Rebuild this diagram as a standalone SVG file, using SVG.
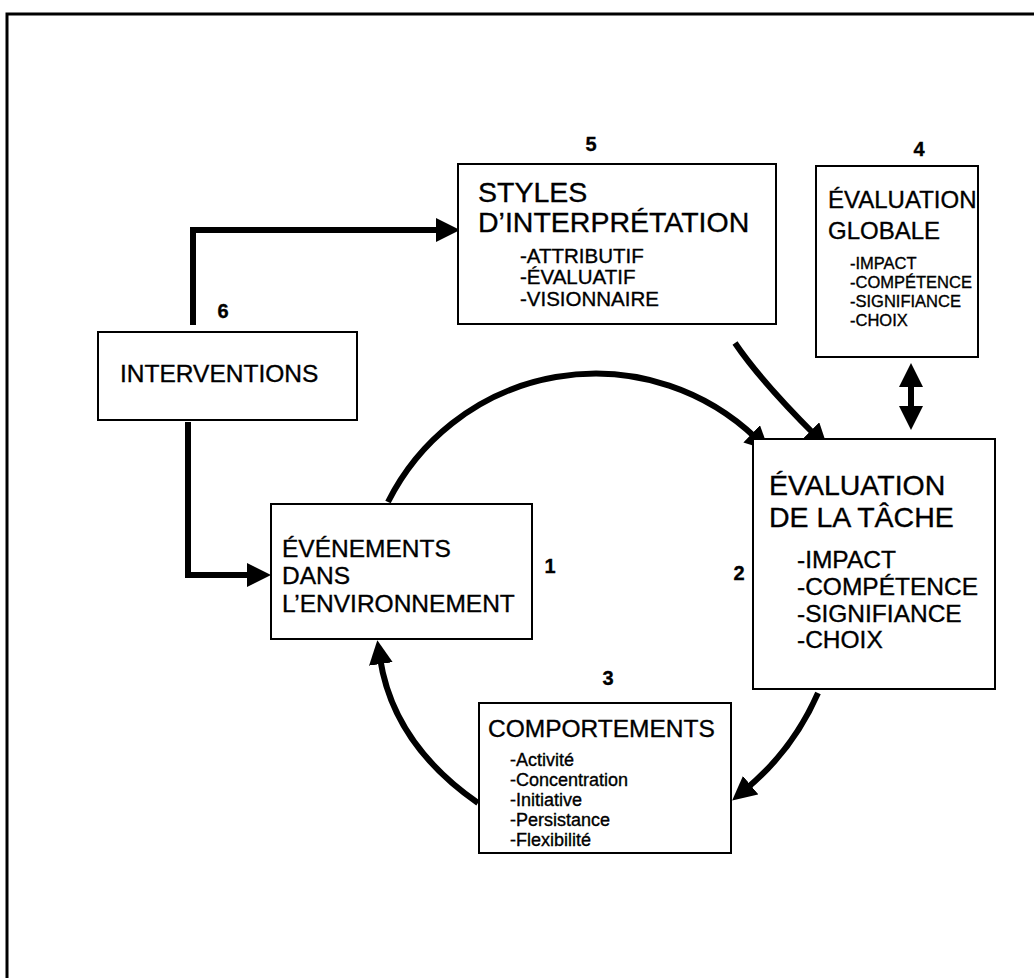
<svg xmlns="http://www.w3.org/2000/svg" width="1034" height="978" viewBox="0 0 1034 978">
<style>
text{font-family:"Liberation Sans",Arial,sans-serif;fill:#000;stroke:#000;stroke-width:0.35}
.box{fill:#fff;stroke:#000;stroke-width:2}
.t28{font-size:28.5px}
.t24{font-size:24.5px}
.t20{font-size:20.5px}
.t17{font-size:16.5px}
.t18{font-size:18px}
.num{font-size:20px;font-weight:bold;text-anchor:middle}
.con{fill:none;stroke:#000;stroke-width:6}
</style>
<defs>
<marker id="ah" markerUnits="userSpaceOnUse" viewBox="0 0 24 24" markerWidth="24" markerHeight="24" refX="6" refY="12" orient="auto-start-reverse">
<path d="M0,0 L24,12 L0,24 z" fill="#000"/>
</marker>
</defs>
<rect width="1034" height="978" fill="#fff"/>
<path d="M7,978 V14 H1034" fill="none" stroke="#000" stroke-width="3"/>

<g id="connectors">
<path class="con" d="M193,325 V230 H442" marker-end="url(#ah)"/>
<path class="con" d="M188,422 V575 H253" marker-end="url(#ah)"/>
<path class="con" d="M388,502 A232,232 0 0 1 756,438" marker-end="url(#ah)"/>
<path class="con" d="M735,343 Q760,380 815,435" stroke-width="5" marker-end="url(#ah)"/>
<path class="con" d="M911,381 V412" stroke-width="7" marker-start="url(#ah)" marker-end="url(#ah)"/>
<path class="con" d="M818,693 Q793,750 746,789" marker-end="url(#ah)"/>
<path class="con" d="M478,803 Q393,744 380,658" marker-end="url(#ah)"/>
</g>

<g id="n5">
<rect class="box" x="458" y="164" width="318" height="160"/>
<text class="num" x="591" y="151">5</text>
<text class="t28" x="478" y="202">STYLES</text>
<text class="t28" x="478" y="232">D’INTERPRÉTATION</text>
<text class="t20" x="520" y="263">-ATTRIBUTIF</text>
<text class="t20" x="520" y="284">-ÉVALUATIF</text>
<text class="t20" x="520" y="306">-VISIONNAIRE</text>
</g>

<g id="n4">
<rect class="box" x="816" y="166" width="162" height="191"/>
<text class="num" x="919" y="156">4</text>
<text x="828" y="208" style="font-size:24px">ÉVALUATION</text>
<text x="828" y="239" style="font-size:24px">GLOBALE</text>
<text class="t17" x="850" y="269">-IMPACT</text>
<text class="t17" x="850" y="288">-COMPÉTENCE</text>
<text class="t17" x="850" y="307">-SIGNIFIANCE</text>
<text class="t17" x="850" y="326">-CHOIX</text>
</g>

<g id="n6">
<rect class="box" x="98" y="332" width="259" height="88"/>
<text class="num" x="223" y="318">6</text>
<text class="t24" x="120" y="382">INTERVENTIONS</text>
</g>

<g id="n1">
<rect class="box" x="271" y="504" width="261" height="135"/>
<text class="num" x="550" y="573">1</text>
<text class="t24" x="282" y="557">ÉVÉNEMENTS</text>
<text class="t24" x="282" y="584">DANS</text>
<text class="t24" x="282" y="612">L’ENVIRONNEMENT</text>
</g>

<g id="n2">
<rect class="box" x="753" y="439" width="242" height="250"/>
<text class="num" x="739" y="580">2</text>
<text class="t28" x="769" y="495">ÉVALUATION</text>
<text class="t28" x="769" y="527">DE LA TÂCHE</text>
<text class="t24" x="797" y="568">-IMPACT</text>
<text class="t24" x="797" y="595">-COMPÉTENCE</text>
<text class="t24" x="797" y="622">-SIGNIFIANCE</text>
<text class="t24" x="797" y="648">-CHOIX</text>
</g>

<g id="n3">
<rect class="box" x="479" y="703" width="252" height="150"/>
<text class="num" x="608" y="685">3</text>
<text class="t24" x="488" y="737">COMPORTEMENTS</text>
<text class="t18" x="510" y="766">-Activité</text>
<text class="t18" x="510" y="786">-Concentration</text>
<text class="t18" x="510" y="806">-Initiative</text>
<text class="t18" x="510" y="826">-Persistance</text>
<text class="t18" x="510" y="846">-Flexibilité</text>
</g>
</svg>
